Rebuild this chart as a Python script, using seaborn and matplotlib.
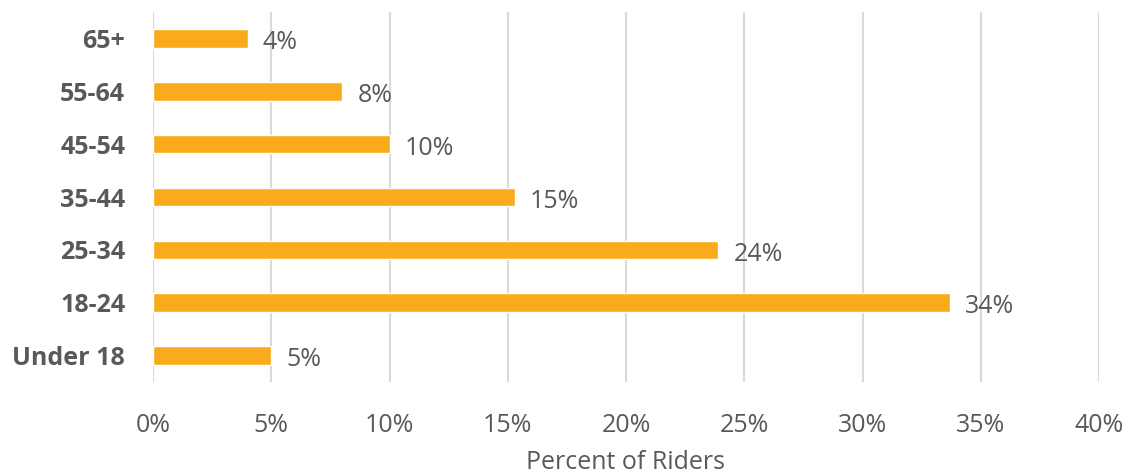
import matplotlib
matplotlib.use("Agg")
import matplotlib.pyplot as plt
import seaborn as sns
import pandas as pd
from matplotlib.ticker import FuncFormatter

age_groups = ["65+", "55-64", "45-54", "35-44", "25-34", "18-24", "Under 18"]
percent_riders = [4.0, 8.0, 10.0, 15.3, 23.9, 33.7, 5.0]
value_labels = ["4%", "8%", "10%", "15%", "24%", "34%", "5%"]
x_ticks = [0, 5, 10, 15, 20, 25, 30, 35, 40]

sns.set_theme(style="white")
plt.rcParams["font.family"] = ["Open Sans", "DejaVu Sans"]

TEXT = "#595959"
BAR = "#FAAB1C"
FS = 18

df = pd.DataFrame({"age": age_groups, "pct": percent_riders})

fig = plt.figure(figsize=(11.29, 4.73), dpi=100)
ax = fig.add_axes([153 / 1129, 1 - 382 / 473, (1099 - 153) / 1129, (382 - 12) / 473])

sns.barplot(data=df, y="age", x="pct", order=age_groups, orient="h",
            color=BAR, width=0.35, saturation=1, ax=ax, zorder=3)

ax.set_xlim(0, 40)
ax.set_ylim(6.5, -0.5)
ax.set_xticks(x_ticks)
ax.xaxis.set_major_formatter(FuncFormatter(lambda v, p: f"{int(v)}%"))
ax.grid(axis="x", color="#D9D9D9", linewidth=1.5, zorder=0)
ax.grid(axis="y", visible=False)
for s in ax.spines.values():
    s.set_visible(False)

ax.tick_params(axis="x", length=0, pad=22, labelsize=FS, labelcolor=TEXT)
ax.tick_params(axis="y", length=0, pad=20, labelsize=FS, labelcolor=TEXT)
for t in ax.get_yticklabels():
    t.set_fontweight("bold")

ax.set_ylabel("")
ax.set_xlabel("Percent of Riders", fontsize=FS, color=TEXT, labelpad=9)

for i, (v, lab) in enumerate(zip(percent_riders, value_labels)):
    ax.annotate(lab, xy=(v, i), xytext=(11, -3), textcoords="offset points",
                ha="left", va="center", fontsize=FS, color=TEXT)

fig.savefig("out.png", dpi=100)
